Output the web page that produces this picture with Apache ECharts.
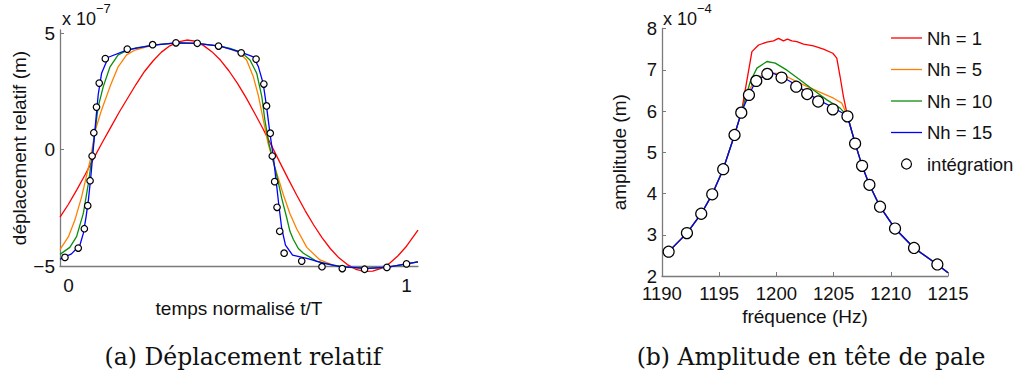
<!DOCTYPE html>
<html><head><meta charset="utf-8">
<script src="https://cdn.jsdelivr.net/npm/echarts@6/dist/echarts.min.js"></script>
<style>html,body{margin:0;padding:0;background:#fff}#c{width:1018px;height:387px}</style>
</head><body><div id="c"></div>
<script>
// ---------- (a) Déplacement relatif : t/T vs displacement (x 1e-7 m)
const tRed = [-0.025, 0, 0.025, 0.05, 0.075, 0.1, 0.125, 0.15, 0.175, 0.2, 0.225, 0.25, 0.275, 0.3, 0.325, 0.35, 0.375, 0.4, 0.425, 0.45, 0.475, 0.5, 0.525, 0.55, 0.575, 0.6, 0.625, 0.65, 0.675, 0.7, 0.725, 0.75, 0.775, 0.8, 0.825, 0.85, 0.875, 0.9, 0.925, 0.95, 0.975, 1.0, 1.034];
const yRed = [-2.9, -2.35, -1.72, -1.06, -0.37, 0.3, 0.95, 1.6, 2.2, 2.8, 3.35, 3.8, 4.18, 4.45, 4.62, 4.7, 4.65, 4.46, 4.19, 3.83, 3.37, 2.84, 2.24, 1.58, 0.9, 0.19, -0.54, -1.26, -1.95, -2.62, -3.23, -3.78, -4.26, -4.65, -4.94, -5.14, -5.23, -5.22, -5.1, -4.88, -4.56, -4.15, -3.46];
const tOr = [-0.025, 0, 0.019, 0.039, 0.054, 0.066, 0.078, 0.098, 0.123, 0.147, 0.172, 0.197, 0.231, 0.26, 0.32, 0.379, 0.448, 0.478, 0.507, 0.527, 0.547, 0.562, 0.576, 0.59, 0.604, 0.62, 0.636, 0.655, 0.675, 0.705, 0.744, 0.783, 0.82, 0.882, 0.941, 1.0, 1.034];
const yOr = [-4.3, -3.74, -3.03, -2.03, -1.1, -0.35, 0.75, 1.7, 2.7, 3.55, 4.06, 4.27, 4.41, 4.5, 4.58, 4.56, 4.44, 4.32, 4.15, 3.84, 3.12, 2.3, 1.3, 0.3, -0.45, -1.2, -1.95, -2.75, -3.4, -4.2, -4.74, -4.96, -5.05, -5.1, -5.06, -4.91, -4.82];
const tGr = [-0.025, 0.004, 0.024, 0.044, 0.059, 0.068, 0.076, 0.088, 0.103, 0.123, 0.147, 0.172, 0.2, 0.251, 0.32, 0.379, 0.448, 0.478, 0.512, 0.537, 0.557, 0.572, 0.581, 0.593, 0.606, 0.616, 0.631, 0.646, 0.655, 0.665, 0.68, 0.695, 0.734, 0.783, 0.82, 0.882, 0.941, 1.0, 1.034];
const yGr = [-4.5, -4.2, -3.74, -2.74, -1.45, -0.5, 0.5, 1.84, 2.7, 3.55, 4.06, 4.24, 4.36, 4.48, 4.58, 4.56, 4.44, 4.34, 4.17, 3.84, 3.27, 2.27, 1.27, 0.25, -0.5, -1.1, -2.1, -2.95, -3.5, -3.85, -4.25, -4.45, -4.8, -4.96, -5.05, -5.1, -5.06, -4.91, -4.82];
const tBl = [-0.025, 0.009, 0.034, 0.044, 0.052, 0.059, 0.066, 0.073, 0.08, 0.088, 0.098, 0.118, 0.174, 0.251, 0.32, 0.379, 0.448, 0.512, 0.547, 0.562, 0.576, 0.586, 0.596, 0.606, 0.614, 0.622, 0.631, 0.642, 0.663, 0.705, 0.754, 0.803, 0.882, 0.941, 1.0, 1.034];
const yBl = [-4.71, -4.48, -4.1, -3.6, -2.9, -2.17, -1.2, -0.05, 1.1, 2.35, 3.27, 3.96, 4.28, 4.48, 4.58, 4.56, 4.44, 4.17, 3.98, 3.55, 2.84, 1.84, 0.7, -0.31, -1.3, -2.35, -3.4, -4.1, -4.53, -4.67, -4.88, -5.03, -5.1, -5.06, -4.91, -4.82];
const tInt = [-0.0104, 0.029, 0.047, 0.057, 0.064, 0.070, 0.075, 0.083, 0.091, 0.109, 0.174, 0.249, 0.318, 0.381, 0.444, 0.511, 0.555, 0.578, 0.586, 0.597, 0.603, 0.610, 0.617, 0.625, 0.638, 0.690, 0.750, 0.810, 0.876, 0.942, 1.0];
const yInt = [-4.63, -4.23, -3.40, -2.41, -1.34, -0.28, 0.72, 1.82, 2.85, 3.90, 4.31, 4.50, 4.58, 4.56, 4.44, 4.15, 3.88, 2.81, 1.87, 0.70, -0.28, -1.38, -2.48, -3.51, -4.45, -4.79, -5.03, -5.11, -5.14, -5.06, -4.91];
const tTickLabels = [0, 1];
const dispTickLabels = [-5, 0, 5];

// ---------- (b) Amplitude en tête de pale : frequency (Hz) vs amplitude (x 1e-4 m)
const fCommonL = [1190.58, 1192.18, 1193.43, 1194.39, 1195.35, 1196.34, 1196.95];
const aCommonL = [2.59, 3.04, 3.51, 3.98, 4.59, 5.42, 5.98];
const fCommonR = [1206.21, 1206.88, 1207.49, 1208.13, 1209.06, 1210.37, 1212.03, 1214.07, 1215];
const aCommonR = [5.88, 5.22, 4.67, 4.21, 3.68, 3.15, 2.68, 2.28, 2.08];
const fRed = [1197.3, 1197.86, 1198.44, 1199.17, 1199.75, 1200.18, 1200.62, 1200.97, 1201.35, 1201.79, 1202.37, 1203.24, 1204.11, 1204.93, 1205.28, 1205.57, 1205.86];
const aRed = [6.55, 7.44, 7.6, 7.67, 7.7, 7.76, 7.7, 7.74, 7.7, 7.68, 7.62, 7.58, 7.5, 7.4, 7.28, 6.83, 6.35];
const fOr = [1197.56, 1198.15, 1199.17, 1200.04, 1200.92, 1202.08, 1203.54, 1204.99, 1205.72];
const aOr = [6.47, 6.77, 6.93, 6.91, 6.83, 6.67, 6.49, 6.31, 6.19];
const fGr = [1197.71, 1198.3, 1199.17, 1199.9, 1200.92, 1202.08, 1203.24, 1204.41, 1205.57];
const aGr = [6.71, 7.04, 7.20, 7.16, 6.99, 6.75, 6.51, 6.27, 6.07];
const fBl = [1197.6, 1198.24, 1199.2, 1199.75, 1200.48, 1201.06, 1201.73, 1202.69, 1203.65, 1204.93];
const aBl = [6.39, 6.75, 6.88, 6.91, 6.82, 6.74, 6.63, 6.44, 6.27, 6.09];
const fInt = [1190.58, 1192.18, 1193.43, 1194.39, 1195.35, 1196.34, 1196.93, 1197.6, 1198.24, 1199.2, 1200.45, 1201.73, 1202.69, 1203.65, 1204.93, 1206.21, 1206.88, 1207.49, 1208.13, 1209.06, 1210.37, 1212.03, 1214.07];
const aInt = [2.59, 3.04, 3.51, 3.98, 4.59, 5.42, 5.96, 6.39, 6.73, 6.90, 6.81, 6.59, 6.41, 6.23, 6.04, 5.87, 5.21, 4.67, 4.21, 3.68, 3.15, 2.68, 2.28];

const names = ['Nh = 1', 'Nh = 5', 'Nh = 10', 'Nh = 15', 'intégration'];
const colors = ['#ff0000', '#ff8000', '#0a8f0a', '#0000ff'];

const zip = (xs, ys) => xs.map((x, i) => [x, ys[i]]);
const right = (fm, am) => zip(fCommonL.concat(fm, fCommonR), aCommonL.concat(am, aCommonR));

const FONT = '"Liberation Sans", Arial, sans-serif';
const TXT = '#111';
const AX = '#7a7a7a';
const minus = v => (v < 0 ? '\u2212' + (-v) : String(v));
const LINE_ICON = 'path://M0,0H62V2.6H0Z';

function lineSeries(i, data, grid) {
  return {
    name: names[i], type: 'line', xAxisIndex: grid, yAxisIndex: grid, data,
    symbol: 'none', clip: false, smooth: false, z: 2 + i,
    lineStyle: { color: colors[i], width: 1.3 }, itemStyle: { color: colors[i] }
  };
}
const circleStyle = { color: '#fff', borderColor: '#000', borderWidth: 1.2, opacity: 1 };

const chart = echarts.init(document.getElementById('c'), null, { renderer: 'svg' });
chart.setOption({
  animation: false,
  backgroundColor: '#fff',
  grid: [
    { left: 60, top: 30, width: 358, height: 236 },
    { left: 662, top: 28.5, width: 286, height: 247.5 }
  ],
  xAxis: [
    {
      gridIndex: 0, type: 'value', min: -0.025, max: 1.034,
      axisLine: { onZero: false, lineStyle: { color: AX, width: 1.3 } },
      axisTick: { show: false }, splitLine: { show: false },
      axisLabel: { customValues: tTickLabels, fontSize: 19, lineHeight: 15, color: TXT, fontFamily: FONT, margin: 11.5 },
      name: 'temps normalisé t/T', nameLocation: 'middle', nameGap: 32,
      nameTextStyle: { fontSize: 19, color: TXT, fontFamily: FONT }
    },
    {
      gridIndex: 1, type: 'value', min: 1190, max: 1215, interval: 5,
      axisLine: { onZero: false, lineStyle: { color: AX, width: 1.3 } },
      axisTick: { inside: true, length: 4, lineStyle: { color: AX } }, splitLine: { show: false },
      axisLabel: { formatter: v => String(v), fontSize: 18.5, lineHeight: 14, color: TXT, fontFamily: FONT, margin: 10 },
      name: 'fréquence (Hz)', nameLocation: 'middle', nameGap: 30,
      nameTextStyle: { fontSize: 19, color: TXT, fontFamily: FONT }
    }
  ],
  yAxis: [
    {
      gridIndex: 0, type: 'value', min: -5, max: 5.13,
      axisLine: { show: true, onZero: false, lineStyle: { color: AX, width: 1.3 } },
      axisTick: { show: true, inside: true, length: 4, customValues: dispTickLabels, lineStyle: { color: AX } },
      splitLine: { show: false },
      axisLabel: { customValues: dispTickLabels, formatter: minus, fontSize: 19, lineHeight: 15, color: TXT, fontFamily: FONT, margin: 5 },
      name: 'déplacement relatif (m)', nameLocation: 'middle', nameGap: 27,
      nameTextStyle: { fontSize: 19, color: TXT, fontFamily: FONT }
    },
    {
      gridIndex: 1, type: 'value', min: 2, max: 8, interval: 1,
      axisLine: { show: true, onZero: false, lineStyle: { color: AX, width: 1.3 } },
      axisTick: { show: true, inside: true, length: 4, lineStyle: { color: AX } },
      splitLine: { show: false },
      axisLabel: { fontSize: 18.5, lineHeight: 12, color: TXT, fontFamily: FONT, margin: 5 },
      name: 'amplitude (m)', nameLocation: 'middle', nameGap: 33,
      nameTextStyle: { fontSize: 19, color: TXT, fontFamily: FONT }
    }
  ],
  legend: {
    orient: 'vertical', left: 886, top: 23, itemWidth: 31, itemHeight: 10, itemGap: 11.5,
    selectedMode: false,
    data: [
      { name: names[0], icon: LINE_ICON },
      { name: names[1], icon: LINE_ICON },
      { name: names[2], icon: LINE_ICON },
      { name: names[3], icon: LINE_ICON },
      { name: names[4], icon: 'circle', itemStyle: circleStyle }
    ],
    textStyle: { fontSize: 18.5, fontFamily: FONT, color: TXT, lineHeight: 20 }
  },
  series: [
    lineSeries(0, zip(tRed, yRed), 0),
    lineSeries(1, zip(tOr, yOr), 0),
    lineSeries(2, zip(tGr, yGr), 0),
    lineSeries(3, zip(tBl, yBl), 0),
    {
      name: names[4], type: 'scatter', xAxisIndex: 0, yAxisIndex: 0, data: zip(tInt, yInt),
      symbol: 'circle', symbolSize: 6.5, clip: false, z: 10, itemStyle: circleStyle
    },
    lineSeries(0, right(fRed, aRed), 1),
    lineSeries(1, right(fOr, aOr), 1),
    lineSeries(2, right(fGr, aGr), 1),
    lineSeries(3, right(fBl, aBl), 1),
    {
      name: names[4], type: 'scatter', xAxisIndex: 1, yAxisIndex: 1, data: zip(fInt, aInt),
      symbol: 'circle', symbolSize: 11, clip: false, z: 10, itemStyle: circleStyle
    }
  ],
  graphic: [
    { type: 'text', x: 62, y: 19, style: { text: 'x 10', font: '18px ' + FONT, fill: TXT, verticalAlign: 'middle' } },
    { type: 'text', x: 96, y: 8, style: { text: '\u22127', font: '13px ' + FONT, fill: TXT, verticalAlign: 'middle' } },
    { type: 'text', x: 663, y: 19, style: { text: 'x 10', font: '18px ' + FONT, fill: TXT, verticalAlign: 'middle' } },
    { type: 'text', x: 697, y: 8, style: { text: '\u22124', font: '13px ' + FONT, fill: TXT, verticalAlign: 'middle' } },
    { type: 'text', x: 243, y: 357, style: { text: '(a) Déplacement relatif', font: '23.5px "DejaVu Serif", serif', fill: TXT, align: 'center', verticalAlign: 'middle' } },
    { type: 'text', x: 811, y: 357, style: { text: '(b) Amplitude en tête de pale', font: '23.5px "DejaVu Serif", serif', fill: TXT, align: 'center', verticalAlign: 'middle' } }
  ]
});
</script>
</body></html>
